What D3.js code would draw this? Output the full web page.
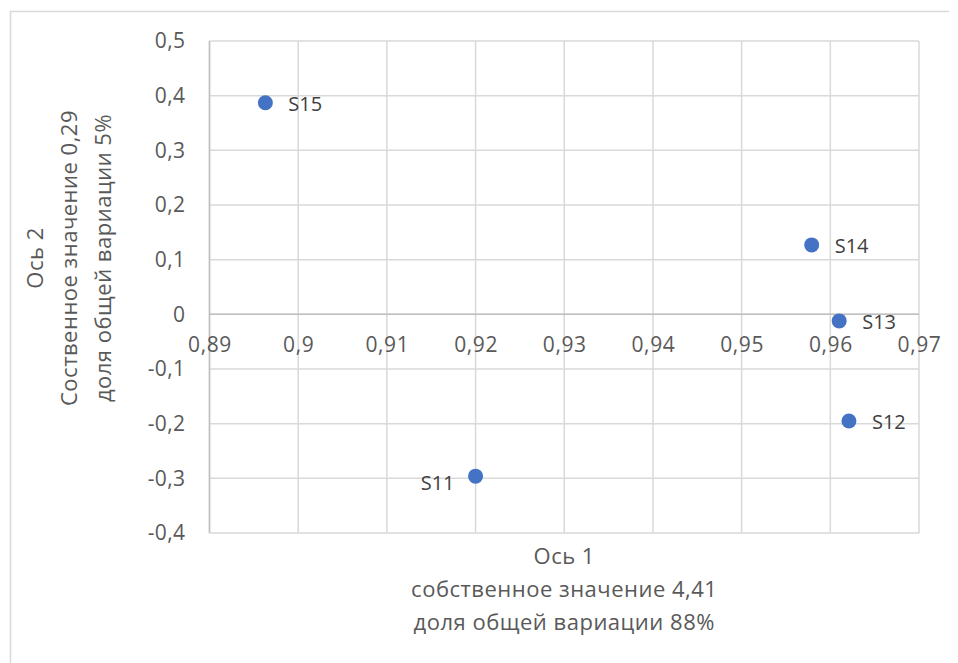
<!DOCTYPE html>
<html>
<head>
<meta charset="utf-8">
<script src="https://cdn.jsdelivr.net/npm/d3@7"></script>
<style>
  html, body { margin: 0; padding: 0; background: #fff; }
  svg { display: block; font-family: "Open Sans", "Noto Sans", sans-serif; }
</style>
</head>
<body>
<svg id="chart" width="958" height="663"></svg>
<script>
// Scores of the samples on the first two principal axes
const names = ["S11", "S12", "S13", "S14", "S15"];
const axis1 = [0.9200, 0.9621, 0.9610, 0.9579, 0.8963];
const axis2 = [-0.296, -0.195, -0.012, 0.127, 0.387];

const xTicks = [0.89, 0.90, 0.91, 0.92, 0.93, 0.94, 0.95, 0.96, 0.97];
const yTicks = [-0.4, -0.3, -0.2, -0.1, 0, 0.1, 0.2, 0.3, 0.4, 0.5];

const xTitle = ["Ось 1", "собственное значение 4,41", "доля общей вариации 88%"];
const yTitle = ["Ось 2", "Соственное значение 0,29", "доля общей вариации 5%"];

const points = names.map((n, i) => ({ name: n, x: axis1[i], y: axis2[i] }));

const svg = d3.select("#chart");
const W = 958, H = 663;
const plot = { left: 209.5, right: 919, top: 41, bottom: 533 };

const x = d3.scaleLinear().domain([0.89, 0.97]).range([plot.left, plot.right]);
const y = d3.scaleLinear().domain([-0.4, 0.5]).range([plot.bottom, plot.top]);

const fmt = v => String(+v.toFixed(2)).replace(".", ",");
const textColor = "#595959";
const gridColor = "#d9d9d9";
const axisColor = "#bfbfbf";

svg.append("rect").attr("width", W).attr("height", H).attr("fill", "#fff");

// chart area frame (top and left edges)
svg.append("path")
  .attr("d", `M10.5,${H} V11.5 H949`)
  .attr("fill", "none")
  .attr("stroke", gridColor)
  .attr("stroke-width", 1.5);

// gridlines
const grid = svg.append("g");
grid.selectAll("line.v").data(xTicks).join("line")
  .attr("x1", d => x(d)).attr("x2", d => x(d))
  .attr("y1", plot.top).attr("y2", plot.bottom)
  .attr("stroke", gridColor).attr("stroke-width", 1.5);
grid.selectAll("line.h").data(yTicks).join("line")
  .attr("x1", plot.left).attr("x2", plot.right)
  .attr("y1", d => y(d)).attr("y2", d => y(d))
  .attr("stroke", gridColor).attr("stroke-width", 1.5);

// axis lines: vertical at the left bound, horizontal through zero
svg.append("line")
  .attr("x1", plot.left).attr("x2", plot.left)
  .attr("y1", plot.top).attr("y2", plot.bottom)
  .attr("stroke", axisColor).attr("stroke-width", 1.5);
svg.append("line")
  .attr("x1", plot.left).attr("x2", plot.right)
  .attr("y1", y(0)).attr("y2", y(0))
  .attr("stroke", axisColor).attr("stroke-width", 1.5);

// tick labels
const xAxis = d3.axisBottom(x).tickValues(xTicks).tickFormat(fmt).tickSize(0).tickPadding(19);
const gx = svg.append("g").attr("transform", `translate(0,${y(0)})`).call(xAxis);
gx.select(".domain").remove();
gx.selectAll("text").attr("fill", textColor).attr("font-size", 21)
  .attr("letter-spacing", "0.6px")
  .attr("font-family", "'Open Sans', 'Noto Sans', sans-serif")
  .attr("dy", "0.34em").attr("y", 31);

const yAxis = d3.axisLeft(y).tickValues(yTicks).tickFormat(fmt).tickSize(0).tickPadding(24);
const gy = svg.append("g").attr("transform", `translate(${plot.left},0)`).call(yAxis);
gy.select(".domain").remove();
gy.selectAll("text").attr("fill", textColor).attr("font-size", 21)
  .attr("letter-spacing", "0.4px")
  .attr("font-family", "'Open Sans', 'Noto Sans', sans-serif");

// axis titles
const xt = svg.append("text")
  .attr("text-anchor", "middle")
  .attr("fill", textColor).attr("font-size", 22).attr("letter-spacing", "0.5px");
xTitle.forEach((t, i) => {
  xt.append("tspan").attr("x", (plot.left + plot.right) / 2).attr("y", 564 + i * 33).text(t);
});

const yt = svg.append("text")
  .attr("text-anchor", "middle")
  .attr("fill", textColor).attr("font-size", 22).attr("letter-spacing", "0.5px")
  .attr("transform", "translate(0,258) rotate(-90)");
yTitle.forEach((t, i) => {
  yt.append("tspan").attr("x", 0).attr("y", 43 + i * 34).text(t);
});

// points
svg.append("g").selectAll("circle").data(points).join("circle")
  .attr("cx", d => x(d.x)).attr("cy", d => y(d.y))
  .attr("r", 7.5).attr("fill", "#4472c4");

// point labels (S11 sits to the left and a little below its point)
const leftLabels = new Set(["S11"]);
svg.append("g").selectAll("text").data(points).join("text")
  .attr("x", d => leftLabels.has(d.name) ? x(d.x) - 21 : x(d.x) + 23)
  .attr("y", d => y(d.y) + (leftLabels.has(d.name) ? 7 : 1.5))
  .attr("dy", "0.35em")
  .attr("text-anchor", d => leftLabels.has(d.name) ? "end" : "start")
  .attr("fill", "#404040").attr("font-size", 20)
  .text(d => d.name);
</script>
</body>
</html>
